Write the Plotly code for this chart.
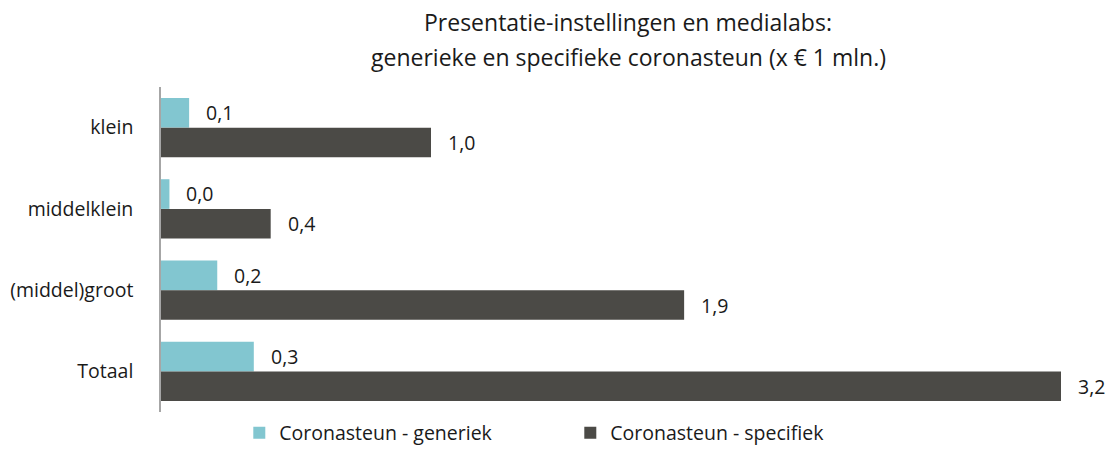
import plotly.graph_objects as go

categories = ["klein", "middelklein", "(middel)groot", "Totaal"]
generiek = [0.10, 0.03, 0.20, 0.33]
specifiek = [0.96, 0.39, 1.86, 3.20]
series_names = ["Coronasteun - generiek", "Coronasteun - specifiek"]
colors = ["#82C6D0", "#4B4A46"]

FONT = "Open Sans"
TXT = "#1a1a1a"
LBL = 19.5


def fmt(v):
    return f"{v:.1f}".replace(".", ",")


fig = go.Figure()
for name, vals, col in zip(series_names, [generiek, specifiek], colors):
    fig.add_trace(go.Bar(
        y=categories, x=vals, name=name, orientation="h",
        marker=dict(color=col, line=dict(width=0)),
        hoverinfo="skip",
    ))

annotations = []
for vals, shift in [(generiek, 15), (specifiek, -15)]:
    for cat, v in zip(categories, vals):
        annotations.append(dict(
            x=v, y=cat, xref="x", yref="y", text=fmt(v), showarrow=False,
            xanchor="left", yanchor="middle", xshift=15, yshift=shift,
            font=dict(family=FONT, size=LBL, color=TXT),
        ))

annotations.append(dict(
    x=0.519, y=1.2, xref="paper", yref="paper", xanchor="center", yanchor="middle",
    text="Presentatie-instellingen en medialabs:", showarrow=False,
    font=dict(family=FONT, size=23, color=TXT),
))
annotations.append(dict(
    x=0.519, y=1.092, xref="paper", yref="paper", xanchor="center", yanchor="middle",
    text="generieke en specifieke coronasteun (x € 1 mln.)", showarrow=False,
    font=dict(family=FONT, size=23, color=TXT),
))

fig.update_layout(
    width=1114, height=450,
    margin=dict(l=161, r=53, t=87, b=38, autoexpand=False),
    paper_bgcolor="white", plot_bgcolor="white",
    barmode="group", bargap=0.27, bargroupgap=0,
    font=dict(family=FONT, size=LBL, color=TXT),
    showlegend=True,
    legend=dict(
        orientation="h", x=0.087, y=-0.125, xanchor="left", yanchor="bottom",
        font=dict(family=FONT, size=LBL, color=TXT),
        entrywidth=286, entrywidthmode="pixels",
        itemclick=False, itemdoubleclick=False,
    ),
    annotations=annotations,
)
fig.update_xaxes(range=[0, 3.2], showgrid=False, zeroline=False,
                 showticklabels=False, showline=False)
fig.update_yaxes(autorange="reversed", showgrid=False, zeroline=False,
                 showline=True, linecolor="#A6A6A6", linewidth=1.5,
                 ticks="", ticklabelstandoff=22,
                 tickfont=dict(family=FONT, size=LBL, color=TXT))

fig.write_html("out.html")
